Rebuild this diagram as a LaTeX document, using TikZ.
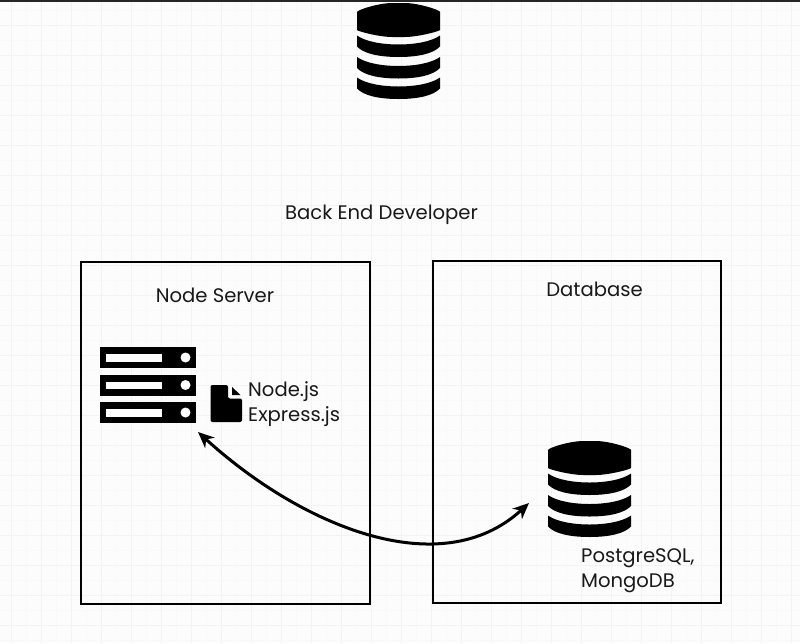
\documentclass[tikz,border=0pt]{standalone}
\usepackage{fontspec}
\setmainfont{Poppins}
\usetikzlibrary{arrows.meta}
\definecolor{paper}{HTML}{FCFCFC}
\definecolor{gridline}{HTML}{F3F3F3}
\definecolor{gridfine}{HTML}{F9F9F9}
\tikzset{
  dbicon/.pic={
    \fill[black,rounded corners=6pt] (-41.5,15) .. controls (-41.5,7) and (-20,0) .. (0,0) .. controls (20,0) and (41.5,7) .. (41.5,15) -- (41.5,21) .. controls (41.5,28) and (20,34) .. (0,34) .. controls (-20,34) and (-41.5,28) .. (-41.5,21) -- cycle;
    \foreach \bandtop in {32.5,54,74.5}{
      \fill[black] (-41.5,\bandtop) .. controls (-25,\bandtop+12) and (25,\bandtop+12) .. (41.5,\bandtop) -- (41.5,\bandtop+11) .. controls (35,\bandtop+18) and (20,\bandtop+21.5) .. (0,\bandtop+21.5) .. controls (-20,\bandtop+21.5) and (-35,\bandtop+18) .. (-41.5,\bandtop+11) -- cycle;
    }
  }
}
\begin{document}
\begin{tikzpicture}[x=1pt,y=-1pt,
    boxnode/.style={draw=black,line width=1.7pt,rectangle,minimum width=#1,minimum height=342pt,inner sep=0pt},
    iconnode/.style={rectangle,minimum width=#1,inner sep=0pt,outer sep=0pt},
    label/.style={font=\fontsize{19.6}{25}\selectfont,inner sep=0pt,align=left,text=black!90}
  ]
  \useasboundingbox (0,0) rectangle (800,643);
  \fill[paper] (0,0) rectangle (800,643);
  \foreach \gx in {26,56,...,806} \draw[gridfine,line width=0.8pt] (\gx,0) -- (\gx,643);
  \foreach \gy in {10,40,...,640} \draw[gridfine,line width=0.8pt] (0,\gy) -- (800,\gy);
  \foreach \gx in {11,41,...,791} \draw[gridline,line width=1pt] (\gx,0) -- (\gx,643);
  \foreach \gy in {25,55,...,625} \draw[gridline,line width=1pt] (0,\gy) -- (800,\gy);
  \fill[black!85] (0,0) rectangle (800,2);

  % boxes
  \node[boxnode=289pt] (serverbox) at (225.5,433) {};
  \node[boxnode=288pt] (databasebox) at (577,432) {};

  % icons
  \node[iconnode=83pt,minimum height=96pt] (topdb) at (398.5,51) {};
  \pic at (398.5,3) {dbicon};
  \node[iconnode=83pt,minimum height=96pt] (db) at (589.5,489) {};
  \pic at (589.5,441) {dbicon};
  \node[iconnode=96pt,minimum height=76pt] (server) at (148,385) {};
  \foreach \rowtop in {347,374.5,402}{
    \fill[black] (100,\rowtop) rectangle (196,\rowtop+21);
    \fill[white] (106,\rowtop+7) rectangle (162,\rowtop+14.5);
    \fill[white] (185.5,\rowtop+10.5) circle (5);
  }
  \node[iconnode=32pt,minimum height=37pt] (fileicon) at (226.5,403.5) {};
  \fill[black,rounded corners=2pt] (210.5,385) -- (228,385) -- (228,398.5) -- (242,398.5) -- (242,422) -- (210.5,422) -- cycle;
  \fill[black] (232,387) -- (240.5,395) -- (232,395) -- cycle;

  % labels
  \node[label] (title) at (381.5,215) {Back End Developer};
  \node[label] (servertitle) at (215,295.5) {Node Server};
  \node[label] (databasetitle) at (594.5,289.5) {Database};
  \node[label,anchor=west] (nodetext) at (248,404) {Node.js\\Express.js};
  \node[label,anchor=west] (dbtext) at (581,570.5) {PostgreSQL,\\MongoDB};

  % connector
  \coordinate (serverend) at ([shift={(2,9)}]server.south east);
  \coordinate (dbend) at ([shift={(-19,14)}]db.west);
  \draw[{Stealth[length=16pt,width=14pt,inset=5pt]}-{Stealth[length=16pt,width=14pt,inset=5pt]},line width=3pt,black]
    (serverend) .. controls (300,525) and (440,585) .. (dbend);
\end{tikzpicture}
\end{document}
